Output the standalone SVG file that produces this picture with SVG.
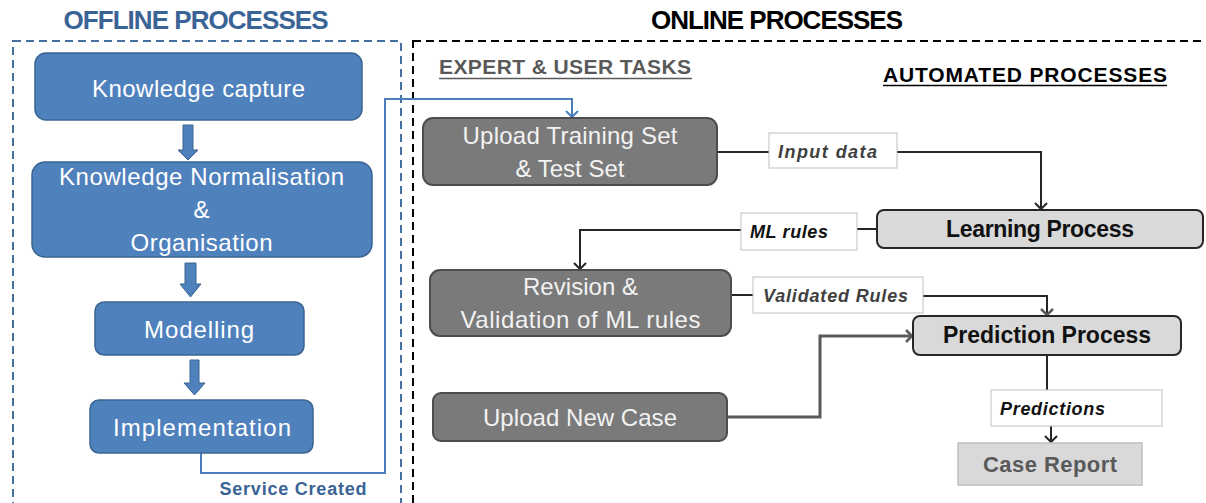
<svg xmlns="http://www.w3.org/2000/svg" width="1206" height="503" viewBox="0 0 1206 503">
<style>
text{font-family:"Liberation Sans",Arial,sans-serif}
.blue rect{fill:#4f81bd;stroke:#3a6591;stroke-width:1.5}
.blue text{fill:#ffffff;font-size:24px;text-anchor:middle}
.dark rect{fill:#7a7a7a;stroke:#4d4d4d;stroke-width:2}
.dark text{fill:#f2f2f2;font-size:24px;text-anchor:middle}
.light rect{fill:#d9d9d9;stroke:#262626;stroke-width:2}
.light text{fill:#111;font-size:23px;font-weight:bold;text-anchor:middle}
.lab rect{fill:#fff;stroke:#bfbfbf;stroke-width:1}
.lab text{font-size:18px;font-weight:bold;font-style:italic}
.blk{fill:#4f81bd;stroke:#3a6591;stroke-width:1}
.con{fill:none;stroke:#262626;stroke-width:2}
</style>
<defs>
<marker id="ah" markerUnits="userSpaceOnUse" markerWidth="14" markerHeight="14" refX="10" refY="7" orient="auto">
<path d="M4,1 L10,7 L4,13" fill="none" stroke="#262626" stroke-width="2"/>
</marker>
<marker id="ahg" markerUnits="userSpaceOnUse" markerWidth="14" markerHeight="14" refX="10" refY="7" orient="auto">
<path d="M4,1 L10,7 L4,13" fill="none" stroke="#595959" stroke-width="2.5"/>
</marker>
<marker id="ahb" markerUnits="userSpaceOnUse" markerWidth="14" markerHeight="14" refX="10" refY="7" orient="auto">
<path d="M4,1 L10,7 L4,13" fill="none" stroke="#4a7ebb" stroke-width="2"/>
</marker>
</defs>
<rect width="1206" height="503" fill="#fff"/>

<g id="frames">
<rect x="13" y="41" width="388" height="490" fill="none" stroke="#41719c" stroke-width="2" stroke-dasharray="8,5"/>
<rect x="413" y="41" width="820" height="490" fill="none" stroke="#000" stroke-width="2" stroke-dasharray="8,5"/>
</g>

<g id="titles">
<text x="196" y="29" font-size="26" font-weight="bold" fill="#3b6496" text-anchor="middle" textLength="265">OFFLINE PROCESSES</text>
<text x="777" y="29" font-size="26" font-weight="bold" fill="#000" text-anchor="middle" textLength="252">ONLINE PROCESSES</text>
<text x="565" y="74" font-size="21" font-weight="bold" fill="#595959" text-anchor="middle" textLength="252">EXPERT &amp; USER TASKS</text>
<line x1="439" y1="78.5" x2="692" y2="78.5" stroke="#595959" stroke-width="1.5"/>
<text x="1025" y="82" font-size="21" font-weight="bold" fill="#000" text-anchor="middle" textLength="284">AUTOMATED PROCESSES</text>
<line x1="883" y1="85.5" x2="1167" y2="85.5" stroke="#000" stroke-width="1.5"/>
</g>

<g id="connectors">
<path d="M201,453 V473 H385 V99 H572 V117" fill="none" stroke="#4a7ebb" stroke-width="2" marker-end="url(#ahb)"/>
<polygon class="blk" points="183,125 193,125 193,150 198,150 188,160 178,150 183,150"/>
<polygon class="blk" points="185,263 196,263 196,284 201,284 190.5,297 180,284 185,284"/>
<polygon class="blk" points="190,360 199,360 199,383 205,383 194.5,395 184,383 190,383"/>
<path class="con" d="M717,152 H769"/>
<path class="con" d="M897,152 H1041 V209" marker-end="url(#ah)"/>
<path class="con" d="M877,229 H857"/>
<path class="con" d="M741,230 H580 V269" marker-end="url(#ah)"/>
<path class="con" d="M731,295 H753" stroke="#404040"/>
<path class="con" d="M923,296 H1047 V315" stroke="#404040" marker-end="url(#ahg)"/>
<path d="M727,417 H820 V336 H912" fill="none" stroke="#595959" stroke-width="3" marker-end="url(#ahg)"/>
<path class="con" d="M1047,355 V390"/>
<path class="con" d="M1051,426 V442" marker-end="url(#ah)"/>
</g>

<g id="n-capture" class="blue">
<rect x="35" y="53" width="327" height="67" rx="11"/>
<text x="198.5" y="97" textLength="213">Knowledge capture</text>
</g>
<g id="n-normal" class="blue">
<rect x="32" y="162" width="340" height="95" rx="13"/>
<text x="201.5" y="185" textLength="285">Knowledge Normalisation</text>
<text x="201.5" y="218">&amp;</text>
<text x="201.5" y="251" textLength="142">Organisation</text>
</g>
<g id="n-model" class="blue">
<rect x="95" y="302" width="209" height="53" rx="9"/>
<text x="199" y="338" textLength="110">Modelling</text>
</g>
<g id="n-impl" class="blue">
<rect x="90" y="400" width="223" height="53" rx="9"/>
<text x="202" y="436" textLength="178">Implementation</text>
</g>
<text id="l-service" x="293" y="495" font-size="18" font-weight="bold" fill="#3b6496" text-anchor="middle" textLength="147">Service Created</text>

<g id="n-upload" class="dark">
<rect x="423" y="118" width="294" height="67" rx="10"/>
<text x="570" y="144" textLength="215">Upload Training Set</text>
<text x="570" y="177" textLength="109">&amp; Test Set</text>
</g>
<g id="l-input" class="lab">
<rect x="769" y="133" width="128" height="35"/>
<text x="778" y="158" fill="#404040" textLength="99">Input data</text>
</g>
<g id="n-learning" class="light">
<rect x="877" y="210" width="326" height="38" rx="7"/>
<text x="1040" y="237" textLength="188">Learning Process</text>
</g>
<g id="l-ml" class="lab">
<rect x="741" y="213" width="116" height="37"/>
<text x="750" y="238" fill="#111" textLength="78">ML rules</text>
</g>
<g id="n-revision" class="dark">
<rect x="430" y="270" width="301" height="66" rx="10"/>
<text x="580.5" y="295" textLength="115">Revision &amp;</text>
<text x="580.5" y="328" textLength="240">Validation of ML rules</text>
</g>
<g id="l-valid" class="lab">
<rect x="753" y="277" width="170" height="36"/>
<text x="763" y="302" fill="#404040" textLength="145">Validated Rules</text>
</g>
<g id="n-prediction" class="light">
<rect x="913" y="316" width="268" height="39" rx="7"/>
<text x="1047" y="343" textLength="208">Prediction Process</text>
</g>
<g id="n-newcase" class="dark">
<rect x="433" y="393" width="294" height="48" rx="8"/>
<text x="580" y="426" textLength="194">Upload New Case</text>
</g>
<g id="l-pred" class="lab">
<rect x="991" y="390" width="171" height="36"/>
<text x="1000" y="415" fill="#111" textLength="105">Predictions</text>
</g>
<g id="n-report">
<rect x="958" y="443" width="184" height="42" fill="#d9d9d9" stroke="#bfbfbf" stroke-width="1.5"/>
<text x="1050" y="472" font-size="22" font-weight="bold" fill="#595959" text-anchor="middle" textLength="134">Case Report</text>
</g>
</svg>
